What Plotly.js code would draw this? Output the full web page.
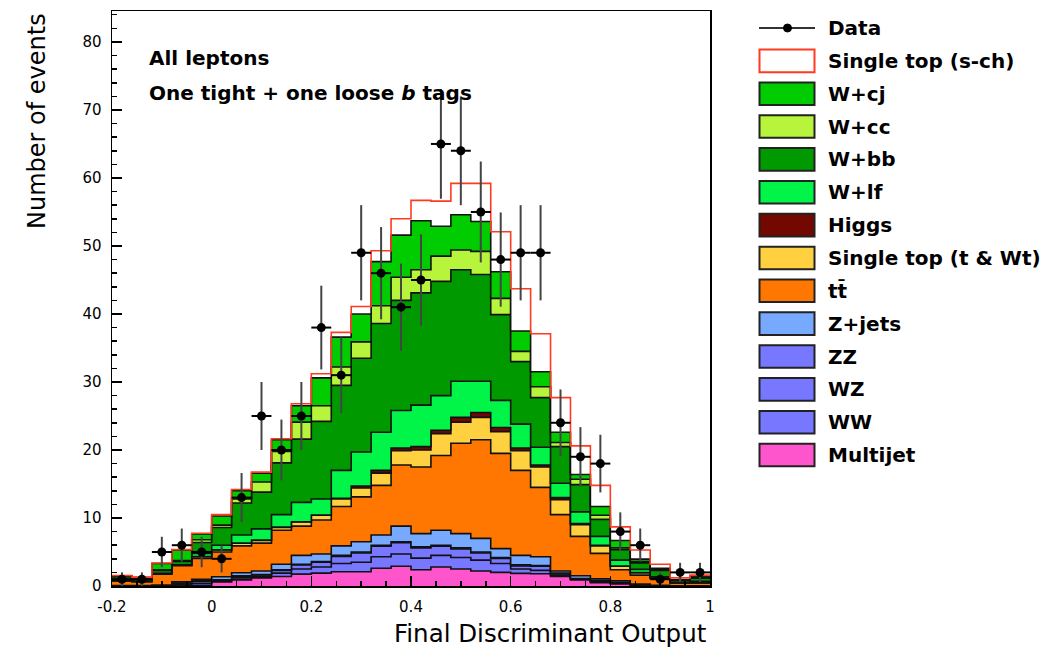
<!DOCTYPE html>
<html><head><meta charset="utf-8">
<script src="https://cdn.plot.ly/plotly-3.0.1.min.js"></script>
<style>html,body{margin:0;padding:0;background:#fff;} #chart{width:1050px;height:651px;}</style>
</head><body><div id="chart"></div>
<script>
// Bin edges of the discriminant histogram (30 bins)
const binEdges = [-0.2,-0.16,-0.12,-0.08,-0.04,0,0.04,0.08,0.12,0.16,0.2,0.24,0.28,0.32,0.36,0.4,0.44,0.48,0.52,0.56,0.6,0.64,0.68,0.72,0.76,0.8,0.84,0.88,0.92,0.96,1.0];

// Background components (events per bin), bottom of stack first
const multijet = [0,0,0,0.05,0.1,0.6,0.9,1.2,1.4,1.75,1.9,2.1,2.1,2.6,2.9,2.4,2.8,2.5,2.2,2.0,1.85,1.8,1.4,0.9,0.5,0.3,0.1,0.02,0,0];
const ww       = [0,0,0.05,0.2,0.3,0.15,0.3,0.25,0.5,0.75,0.9,1.2,1.4,1.7,1.8,1.7,1.7,1.7,1.6,1.3,0.65,0.5,0.2,0.1,0.15,0.1,0.05,0.03,0.01,0];
const wz       = [0,0,0.03,0.15,0.3,0.1,0.25,0.2,0.4,0.6,0.7,1.05,1.35,1.55,1.65,1.5,1.35,1.25,1.05,0.75,0.45,0.6,0.2,0.05,0.1,0.05,0.05,0.02,0.01,0.01];
const zz       = [0,0,0.02,0.05,0.1,0.05,0.05,0.05,0.1,0.1,0.1,0.15,0.15,0.15,0.15,0.15,0.15,0.15,0.15,0.15,0.15,0.1,0.1,0.05,0.05,0.05,0,0.01,0,0];
const zjets    = [0.05,0.05,0.05,0.15,0.2,0.45,0.45,0.5,0.8,1.3,1.1,1.4,1.5,1.5,2.3,1.95,2.2,2.1,2.0,1.3,1.4,1.3,0.3,0.4,0.25,0.25,0.1,0.02,0.01,0.01];
const ttbar    = [0.7,0.6,1.6,2.4,3.05,3.65,3.95,4.1,5.0,4.3,5.0,5.8,6.6,7.3,9.0,9.8,11.0,13.3,14.5,14.0,12.5,10.2,8.3,5.8,3.75,1.65,1.3,1.0,0.42,0.43];
const stopTWt  = [0.03,0.02,0.05,0.05,0.25,0.3,0.4,0.4,0.4,0.6,0.7,1.1,1.3,1.8,2.1,2.5,3.2,3.1,3.3,3.2,2.9,3.0,2.2,1.7,1.1,0.5,0.35,0.1,0.05,0.05];
const higgs    = [0,0,0,0,0.02,0.02,0.03,0.05,0.05,0.05,0.05,0.1,0.3,0.4,0.4,0.5,0.5,0.7,0.7,0.6,0.4,0.3,0.3,0.2,0.1,0.05,0.02,0.02,0,0];
const wlf      = [0.07,0.05,0.05,0.05,0.48,0.68,1.17,1.65,1.85,2.85,2.35,4.1,5.0,5.6,5.5,6.1,5.1,5.3,4.6,4.0,3.5,2.6,2.1,1.7,1.3,0.85,0.48,0.13,0.05,0.2];
const wbb      = [0.5,0.23,0.45,0.5,1.6,2.6,4.7,5.4,7.6,9.3,11.4,12.5,13.8,16.0,16.2,16.5,16.8,16.4,15.7,12.6,9.2,7.3,5.4,4.0,2.5,1.55,0.95,0.95,0.25,0.45];
const wcc      = [0.05,0.05,0.1,0.15,0.4,0.35,0.6,1.5,1.7,2.5,2.3,2.7,2.4,2.6,3.4,3.4,3.7,2.9,3.4,2.4,1.5,1.6,0.6,0.8,0.6,0.25,0.2,0.1,0.05,0.15];
const wcj      = [0.1,0.25,0.9,1.5,0.85,1.35,1.2,1.3,1.7,2.4,4.1,4.4,4.1,6.5,6.2,7.2,4.4,5.2,4.4,3.9,3.0,2.2,1.5,0.7,1.3,1.1,0.35,0.2,0.05,0.2];
const stopSch  = [0.05,0.05,0.08,0.1,0.1,0.2,0.2,0.15,0.15,0.3,0.6,0.7,1.1,1.6,2.4,3.0,3.7,4.6,5.6,5.9,6.2,5.6,5.1,4.2,3.1,2.0,1.35,0.6,0.3,0.1];

// Observed data and statistical uncertainties
const dataCounts = [1,1,5,6,5,4,13,25,20,25,38,31,49,46,41,45,65,64,55,48,49,49,24,19,18,8,6,1,2,2];
const dataErr    = [1,1,2.24,2.45,2.24,2,3.61,5,4.47,5,6.16,5.57,7,6.78,6.4,6.71,8.06,8,7.42,6.93,7,7,4.9,4.36,4.24,2.83,2.45,1,1.41,1.41];

// Axis ticks
const xTickVals = [-0.2,0,0.2,0.4,0.6,0.8,1];
const xTickText = ['-0.2','0','0.2','0.4','0.6','0.8','1'];
const yTickVals = [0,10,20,30,40,50,60,70,80];
const yTickText = ['0','10','20','30','40','50','60','70','80'];

const components = [
  {name:'Multijet', y:multijet, color:'#ff55cc'},
  {name:'WW', y:ww, color:'#7777ff'},
  {name:'WZ', y:wz, color:'#7777ff'},
  {name:'ZZ', y:zz, color:'#7777ff'},
  {name:'Z+jets', y:zjets, color:'#77aaff'},
  {name:'t t\u0304', label:'t<span>t\u0304</span>', y:ttbar, color:'#ff7700'},
  {name:'Single top (t & Wt)', y:stopTWt, color:'#ffd040'},
  {name:'Higgs', y:higgs, color:'#730800'},
  {name:'W+lf', y:wlf, color:'#00f548'},
  {name:'W+bb', y:wbb, color:'#009a00'},
  {name:'W+cc', y:wcc, color:'#b6f53c'},
  {name:'W+cj', y:wcj, color:'#00cc00'},
  {name:'Single top (s-ch)', y:stopSch, color:'#ffffff', line:'#ff3b1f'}
];

const traces = components.map(c => ({
  type:'scatter', mode:'lines', name:c.name,
  x: binEdges, y: c.y.concat([c.y[c.y.length-1]]),
  stackgroup:'bkg',
  line:{shape:'hv', color:c.line || '#111', width:1.6},
  fillcolor:c.color, showlegend:false, hoverinfo:'skip'
}));

const centers = binEdges.slice(0,-1).map((e,i)=>(e+binEdges[i+1])/2);
traces.push({
  type:'scatter', mode:'markers', name:'Data', x:centers, y:dataCounts,
  marker:{color:'#000', size:9},
  error_y:{type:'data', array:dataErr, color:'#444', thickness:2, width:0},
  error_x:{type:'constant', value:0.02, color:'#000', thickness:2, width:0},
  showlegend:false
});

// geometry of plot area in pixels (for paper-coordinate placement)
const L=112, R=710, T=11, B=586;
const px = x => (x-L)/(R-L);
const py = y => (B-y)/(B-T);

const shapes = [], annotations = [];
annotations.push({xref:'paper', yref:'paper', x:px(37), y:py(121), xanchor:'center', yanchor:'middle',
  textangle:-90, text:'Number of events', showarrow:false, font:{size:24, color:'#000'}});
annotations.push({xref:'paper', yref:'paper', x:px(709), y:py(633), xanchor:'right', yanchor:'middle',
  text:'Final Discriminant Output', showarrow:false, font:{size:24.5, color:'#000'}});
annotations.push({xref:'paper', yref:'paper', x:px(147), y:py(57.5), xanchor:'left', yanchor:'middle',
  text:'All leptons', showarrow:false, font:{size:20, color:'#000', weight:'bold'}});
annotations.push({xref:'paper', yref:'paper', x:px(147), y:py(93), xanchor:'left', yanchor:'middle',
  text:'One tight + one loose <i>b</i> tags', showarrow:false, font:{size:20, color:'#000', weight:'bold'}});

// legend drawn as shapes + text
const legendRows = [{name:'Data', data:true}].concat(components.slice().reverse());
legendRows.forEach((r,i)=>{
  const cy = 28 + 32.85*i;
  if (r.data) {
    shapes.push({type:'line', xref:'paper', yref:'paper', x0:px(759), x1:px(815), y0:py(cy), y1:py(cy), line:{color:'#333', width:2}});
    shapes.push({type:'circle', xref:'paper', yref:'paper', x0:px(783.5), x1:px(791.5), y0:py(cy-4), y1:py(cy+4), fillcolor:'#000', line:{color:'#000', width:1}});
  } else {
    shapes.push({type:'rect', xref:'paper', yref:'paper', x0:px(759.5), x1:px(814.5), y0:py(cy-11.3), y1:py(cy+11.3),
      fillcolor:r.color, line:{color:r.line || '#222', width:2}});
  }
  annotations.push({xref:'paper', yref:'paper', x:px(826), y:py(cy), xanchor:'left', yanchor:'middle',
    text:r.label || r.name, showarrow:false, font:{size:20, color:'#000', weight:'bold'}});
});

const axisCommon = {showline:true, linecolor:'#000', linewidth:1.5, mirror:true, showgrid:false, zeroline:false,
  ticks:'inside', ticklen:10, tickwidth:1.5, tickcolor:'#000', tickfont:{size:15, color:'#000'}};

const layout = {
  width:1050, height:651, margin:{l:L, r:1050-R, t:T, b:651-B},
  paper_bgcolor:'#fff', plot_bgcolor:'#fff', showlegend:false,
  font:{family:'DejaVu Sans, sans-serif', color:'#000'},
  xaxis:Object.assign({}, axisCommon, {range:[-0.2,1.0], tickmode:'array', tickvals:xTickVals, ticktext:xTickText,
    minor:{ticks:'inside', dtick:0.05, tick0:0, ticklen:5, tickwidth:1.5, tickcolor:'#000'}, ticklabelstandoff:6}),
  yaxis:Object.assign({}, axisCommon, {range:[0,84.55], tickmode:'array', tickvals:yTickVals, ticktext:yTickText,
    minor:{ticks:'inside', dtick:2, tick0:0, ticklen:5, tickwidth:1.5, tickcolor:'#000'}, ticklabelstandoff:6}),
  shapes:shapes, annotations:annotations
};

Plotly.newPlot('chart', traces, layout, {displayModeBar:false, staticPlot:true});
</script>
</body></html>
